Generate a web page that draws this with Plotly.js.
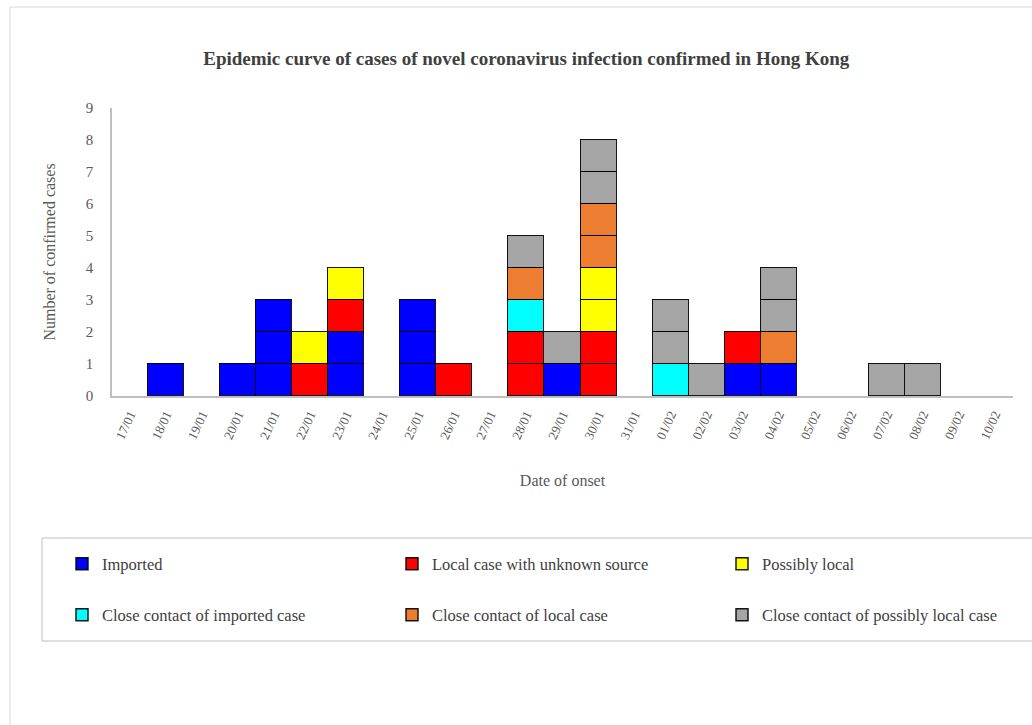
<!DOCTYPE html>
<html>
<head>
<meta charset="utf-8">
<script src="https://cdn.plot.ly/plotly-3.0.1.min.js"></script>
<style>
html, body { margin: 0; padding: 0; background: #fff; overflow: hidden; }
#chart { width: 1032px; height: 725px; }
</style>
</head>
<body>
<div id="chart"></div>
<script>
// Categories (date of onset)
const dates = ["17/01","18/01","19/01","20/01","21/01","22/01","23/01","24/01","25/01","26/01","27/01","28/01","29/01","30/01","31/01","01/02","02/02","03/02","04/02","05/02","06/02","07/02","08/02","09/02","10/02"];

// Number of cases per category, per series
const imported            = [0,1,0,1,3,0,2,0,3,0,0,0,1,0,0,0,0,1,1,0,0,0,0,0,0];
const localUnknown        = [0,0,0,0,0,1,1,0,0,1,0,2,0,2,0,0,0,1,0,0,0,0,0,0,0];
const possiblyLocal       = [0,0,0,0,0,1,1,0,0,0,0,0,0,2,0,0,0,0,0,0,0,0,0,0,0];
const contactImported     = [0,0,0,0,0,0,0,0,0,0,0,1,0,0,0,1,0,0,0,0,0,0,0,0,0];
const contactLocal        = [0,0,0,0,0,0,0,0,0,0,0,1,0,2,0,0,0,0,1,0,0,0,0,0,0];
const contactPossiblyLocal= [0,0,0,0,0,0,0,0,0,0,0,1,1,2,0,2,1,0,2,0,0,1,1,0,0];

const seriesNames = ["Imported","Local case with unknown source","Possibly local","Close contact of imported case","Close contact of local case","Close contact of possibly local case"];
const seriesValues = [imported, localUnknown, possiblyLocal, contactImported, contactLocal, contactPossiblyLocal];
const seriesColors = ["#0000FF","#FF0000","#FFFF00","#00FFFF","#ED7D31","#A5A5A5"];
const seriesLegend = ["legend","legend2","legend3","legend4","legend5","legend6"];

const font = "Liberation Serif, Times New Roman, serif";

// Each confirmed case is drawn as its own box: one stacked unit layer per case count
const traces = [];
seriesNames.forEach((name, s) => {
  const vals = seriesValues[s];
  const maxCount = Math.max(...vals);
  for (let k = 1; k <= maxCount; k++) {
    traces.push({
      type: "bar",
      name: name,
      x: dates,
      y: vals.map(v => (v >= k ? 1 : null)),
      marker: { color: seriesColors[s], line: { color: "rgba(0,0,0,0.9)", width: 1.5 } },
      legendgroup: name,
      legend: seriesLegend[s],
      showlegend: k === 1,
      hovertemplate: name + "<br>%{x}<extra></extra>"
    });
  }
});

// pixel -> paper helpers (plot area: x 112..1013, y 108..396)
const L = 112, R = 1013, T = 108, B = 396;
const px = v => (v - L) / (R - L);
const py = v => (B - v) / (B - T);

const legendCommon = {
  orientation: "h",
  xanchor: "left",
  yanchor: "middle",
  font: { family: font, size: 16.5, color: "#404040" },
  bgcolor: "rgba(0,0,0,0)",
  borderwidth: 0,
  itemwidth: 30,
  traceorder: "normal",
  itemclick: false,
  itemdoubleclick: false
};
const mk = (x, y) => Object.assign({}, legendCommon, { x: px(x), y: py(y) });

const layout = {
  width: 1032,
  height: 725,
  margin: { l: L, r: 1032 - R, t: T, b: 725 - B },
  paper_bgcolor: "#fff",
  plot_bgcolor: "#fff",
  barmode: "stack",
  bargap: 0,
  title: {
    text: "<b>Epidemic curve of cases of novel coronavirus infection confirmed in Hong Kong</b>",
    font: { family: font, size: 19, color: "#404040" },
    x: 0.51, xanchor: "center",
    y: 1 - 58 / 725, yanchor: "middle"
  },
  xaxis: {
    type: "category",
    categoryorder: "array",
    categoryarray: dates,
    tickangle: -65,
    tickfont: { family: font, size: 13, color: "#595959" },
    ticklabelstandoff: 4,
    showline: true, linecolor: "#BFBFBF", linewidth: 1.5,
    showgrid: false, zeroline: false,
    ticks: "",
    title: { text: "Date of onset", font: { family: font, size: 16, color: "#595959" }, standoff: 34 }
  },
  yaxis: {
    range: [0, 9],
    dtick: 1,
    tickfont: { family: font, size: 15, color: "#595959" },
    ticklabelstandoff: 14,
    showline: true, linecolor: "#BFBFBF", linewidth: 1.5,
    showgrid: false, zeroline: false,
    ticks: "",
    title: { text: "Number of confirmed cases", font: { family: font, size: 16, color: "#595959" }, standoff: 26 }
  },
  legend:  mk(62, 564),
  legend2: mk(392, 564),
  legend3: mk(722, 564),
  legend4: mk(62, 615),
  legend5: mk(392, 615),
  legend6: mk(722, 615),
  shapes: [
    { type: "rect", xref: "paper", yref: "paper", x0: px(10), x1: px(1045), y0: py(740), y1: py(7),
      line: { color: "#D9D9D9", width: 1 }, fillcolor: "rgba(0,0,0,0)", layer: "below" },
    { type: "rect", xref: "paper", yref: "paper", x0: px(42), x1: px(1045), y0: py(641), y1: py(538),
      line: { color: "#BFBFBF", width: 1 }, fillcolor: "rgba(0,0,0,0)", layer: "below" }
  ],
  showlegend: true
};

Plotly.newPlot("chart", traces, layout, { displayModeBar: false });
</script>
</body>
</html>
